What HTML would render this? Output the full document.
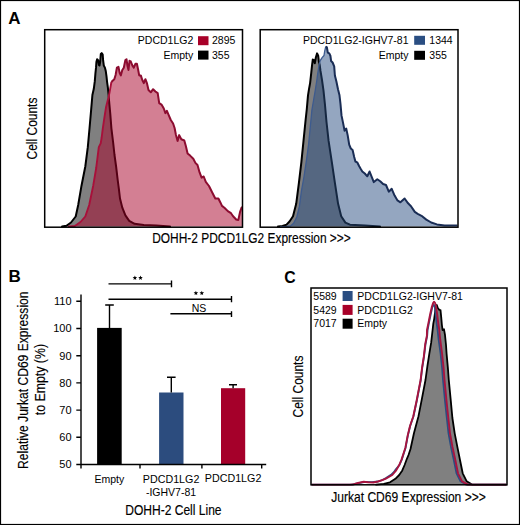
<!DOCTYPE html>
<html><head><meta charset="utf-8"><style>
html,body{margin:0;padding:0;background:#fff;}
svg{display:block;}
text{font-family:"Liberation Sans",sans-serif;}
</style></head><body>
<svg width="520" height="525" viewBox="0 0 520 525">
<rect x="0" y="0" width="520" height="525" fill="#fff"/>
<text x="8.30" y="23.80" font-size="17.00" text-anchor="start" font-weight="bold" fill="#000">A</text>
<text x="8.60" y="282.30" font-size="17.00" text-anchor="start" font-weight="bold" fill="#000">B</text>
<text x="284.30" y="282.50" font-size="17.00" text-anchor="start" font-weight="bold" fill="#000" textLength="11.42" lengthAdjust="spacingAndGlyphs">C</text>
<g>
<polygon points="62.0,226.6 66.5,225.8 71.0,222.5 75.7,216.5 78.2,205.0 81.5,185.7 85.3,166.5 87.8,147.2 89.5,128.5 91.2,109.2 92.4,95.0 93.8,88.8 94.8,81.2 95.4,73.6 96.0,67.9 96.4,62.1 97.1,59.3 98.1,60.2 98.9,65.0 99.5,65.5 100.2,61.7 100.8,54.0 101.7,53.1 102.7,54.5 103.1,60.2 103.8,65.5 105.0,67.9 105.7,70.7 106.5,76.4 107.1,82.1 107.9,87.9 108.6,95.0 109.0,100.0 110.3,114.0 111.4,128.3 113.2,143.0 114.5,155.0 116.1,166.5 117.7,180.0 118.9,189.2 120.0,198.5 122.3,207.7 125.4,215.4 129.2,220.8 134.6,223.8 143.8,224.9 156.2,225.4 170.0,226.6 170.0,226.6 62.0,226.6" fill="#808080" fill-opacity="1" stroke="none"/><polyline points="62.0,226.6 66.5,225.8 71.0,222.5 75.7,216.5 78.2,205.0 81.5,185.7 85.3,166.5 87.8,147.2 89.5,128.5 91.2,109.2 92.4,95.0 93.8,88.8 94.8,81.2 95.4,73.6 96.0,67.9 96.4,62.1 97.1,59.3 98.1,60.2 98.9,65.0 99.5,65.5 100.2,61.7 100.8,54.0 101.7,53.1 102.7,54.5 103.1,60.2 103.8,65.5 105.0,67.9 105.7,70.7 106.5,76.4 107.1,82.1 107.9,87.9 108.6,95.0 109.0,100.0 110.3,114.0 111.4,128.3 113.2,143.0 114.5,155.0 116.1,166.5 117.7,180.0 118.9,189.2 120.0,198.5 122.3,207.7 125.4,215.4 129.2,220.8 134.6,223.8 143.8,224.9 156.2,225.4 170.0,226.6" fill="none" stroke="#000" stroke-width="2.0" stroke-linejoin="round" stroke-linecap="round"/>
<polygon points="68.0,226.6 74.8,226.0 80.5,222.0 85.3,216.5 89.2,205.0 93.2,185.7 96.2,168.0 98.8,147.2 100.7,143.4 101.6,138.0 102.8,128.3 104.5,116.9 106.0,107.3 108.4,97.7 109.5,92.6 111.4,82.0 112.9,80.5 114.3,79.3 115.6,75.0 116.9,67.7 118.5,66.9 119.7,73.1 120.8,75.4 122.3,70.0 123.8,67.7 125.4,60.0 126.5,59.2 127.4,65.4 128.5,70.0 129.5,60.8 130.8,61.5 132.3,65.4 133.8,67.7 135.4,63.8 136.9,63.8 138.2,70.0 139.2,75.4 140.8,75.4 142.3,80.0 143.8,83.1 145.4,79.2 146.9,83.1 148.5,90.0 150.8,92.3 153.1,89.2 155.4,91.5 157.7,93.1 159.2,103.1 161.5,104.6 163.8,108.5 165.4,113.1 166.9,110.8 168.5,114.6 170.8,120.0 173.1,123.5 174.6,128.0 175.9,134.7 177.6,140.9 179.2,135.1 181.3,139.3 184.3,140.5 185.9,146.2 187.6,153.5 190.1,155.6 193.3,158.7 195.4,162.9 197.5,165.0 199.6,172.4 201.6,177.6 203.7,176.5 205.8,181.8 209.0,186.0 212.1,192.3 215.3,198.5 218.4,198.5 220.5,202.7 222.0,205.9 224.7,208.0 227.8,211.1 231.0,213.2 233.1,216.3 236.2,219.5 238.3,220.1 240.0,212.1 241.4,208.0 242.3,207.0 242.3,226.6 68.0,226.6" fill="#a80028" fill-opacity="0.5" stroke="none"/><polyline points="68.0,226.6 74.8,226.0 80.5,222.0 85.3,216.5 89.2,205.0 93.2,185.7 96.2,168.0 98.8,147.2 100.7,143.4 101.6,138.0 102.8,128.3 104.5,116.9 106.0,107.3 108.4,97.7 109.5,92.6 111.4,82.0 112.9,80.5 114.3,79.3 115.6,75.0 116.9,67.7 118.5,66.9 119.7,73.1 120.8,75.4 122.3,70.0 123.8,67.7 125.4,60.0 126.5,59.2 127.4,65.4 128.5,70.0 129.5,60.8 130.8,61.5 132.3,65.4 133.8,67.7 135.4,63.8 136.9,63.8 138.2,70.0 139.2,75.4 140.8,75.4 142.3,80.0 143.8,83.1 145.4,79.2 146.9,83.1 148.5,90.0 150.8,92.3 153.1,89.2 155.4,91.5 157.7,93.1 159.2,103.1 161.5,104.6 163.8,108.5 165.4,113.1 166.9,110.8 168.5,114.6 170.8,120.0 173.1,123.5 174.6,128.0 175.9,134.7 177.6,140.9 179.2,135.1 181.3,139.3 184.3,140.5 185.9,146.2 187.6,153.5 190.1,155.6 193.3,158.7 195.4,162.9 197.5,165.0 199.6,172.4 201.6,177.6 203.7,176.5 205.8,181.8 209.0,186.0 212.1,192.3 215.3,198.5 218.4,198.5 220.5,202.7 222.0,205.9 224.7,208.0 227.8,211.1 231.0,213.2 233.1,216.3 236.2,219.5 238.3,220.1 240.0,212.1 241.4,208.0 242.3,207.0" fill="none" stroke="#8c0c30" stroke-width="0" stroke-linejoin="round" stroke-linecap="round"/>
<polyline points="68.0,226.6 74.8,226.0 80.5,222.0 85.3,216.5 89.2,205.0 93.2,185.7 96.2,168.0 98.8,147.2 100.7,143.4 101.6,138.0 102.8,128.3 104.5,116.9 106.0,107.3 108.4,97.7 109.5,92.6 111.4,82.0" fill="none" stroke="#a8103a" stroke-width="1.9" stroke-linejoin="round"/>
<polyline points="111.4,82.0 112.9,80.5 114.3,79.3 115.6,75.0 116.9,67.7 118.5,66.9 119.7,73.1 120.8,75.4 122.3,70.0 123.8,67.7 125.4,60.0 126.5,59.2 127.4,65.4 128.5,70.0 129.5,60.8 130.8,61.5 132.3,65.4 133.8,67.7 135.4,63.8 136.9,63.8 138.2,70.0 139.2,75.4 140.8,75.4 142.3,80.0 143.8,83.1 145.4,79.2 146.9,83.1 148.5,90.0 150.8,92.3 153.1,89.2 155.4,91.5 157.7,93.1 159.2,103.1 161.5,104.6 163.8,108.5 165.4,113.1 166.9,110.8 168.5,114.6 170.8,120.0 173.1,123.5 174.6,128.0 175.9,134.7 177.6,140.9 179.2,135.1 181.3,139.3 184.3,140.5 185.9,146.2 187.6,153.5 190.1,155.6 193.3,158.7 195.4,162.9 197.5,165.0 199.6,172.4 201.6,177.6 203.7,176.5 205.8,181.8 209.0,186.0 212.1,192.3 215.3,198.5 218.4,198.5 220.5,202.7 222.0,205.9 224.7,208.0 227.8,211.1 231.0,213.2 233.1,216.3 236.2,219.5 238.3,220.1 240.0,212.1 241.4,208.0 242.3,207.0" fill="none" stroke="#8c0c30" stroke-width="2.0" stroke-linejoin="round"/>
</g>
<rect x="44.7" y="29.7" width="197.8" height="197.5" fill="none" stroke="#000" stroke-width="1.5"/>
<text x="193.30" y="44.30" font-size="10.50" text-anchor="end" font-weight="normal" fill="#000">PDCD1LG2</text>
<rect x="198" y="36.2" width="10.5" height="9" fill="#a80028"/>
<text x="212.00" y="44.30" font-size="10.50" text-anchor="start" font-weight="normal" fill="#000">2895</text>
<text x="193.30" y="58.60" font-size="10.50" text-anchor="end" font-weight="normal" fill="#000">Empty</text>
<rect x="198" y="50.6" width="10.5" height="9" fill="#000"/>
<text x="212.00" y="58.60" font-size="10.50" text-anchor="start" font-weight="normal" fill="#000">355</text>
<text x="36.80" y="128.50" font-size="14.00" text-anchor="middle" font-weight="normal" fill="#000" textLength="61.87" lengthAdjust="spacingAndGlyphs" transform="rotate(-90 36.80 128.50)" stroke="#000" stroke-width="0.15">Cell Counts</text>
<polygon points="278.0,226.6 282.5,226.0 286.5,224.6 289.5,221.5 293.0,216.3 296.2,203.8 298.9,182.8 301.4,161.9 303.5,140.9 305.6,120.0 306.8,109.0 308.0,95.3 309.0,89.2 310.1,83.1 311.3,72.4 312.1,64.8 312.8,59.5 313.9,60.2 314.8,63.3 315.9,57.2 317.1,53.4 318.2,55.7 318.9,61.8 319.7,64.8 320.5,70.9 322.0,80.0 323.5,90.7 325.0,105.0 326.5,122.0 328.6,140.9 331.8,161.9 334.9,182.8 338.1,203.8 341.2,216.3 345.4,222.6 350.0,224.7 365.0,225.5 380.0,226.6 380.0,226.6 278.0,226.6" fill="#808080" fill-opacity="1" stroke="none"/><polyline points="278.0,226.6 282.5,226.0 286.5,224.6 289.5,221.5 293.0,216.3 296.2,203.8 298.9,182.8 301.4,161.9 303.5,140.9 305.6,120.0 306.8,109.0 308.0,95.3 309.0,89.2 310.1,83.1 311.3,72.4 312.1,64.8 312.8,59.5 313.9,60.2 314.8,63.3 315.9,57.2 317.1,53.4 318.2,55.7 318.9,61.8 319.7,64.8 320.5,70.9 322.0,80.0 323.5,90.7 325.0,105.0 326.5,122.0 328.6,140.9 331.8,161.9 334.9,182.8 338.1,203.8 341.2,216.3 345.4,222.6 350.0,224.7 365.0,225.5 380.0,226.6" fill="none" stroke="#000" stroke-width="2.0" stroke-linejoin="round" stroke-linecap="round"/>
<polygon points="280.0,226.6 287.0,226.3 290.5,225.9 293.6,223.2 296.8,217.0 299.4,206.4 301.5,190.7 304.0,176.5 306.7,158.6 308.6,144.3 310.0,130.0 311.9,110.0 313.6,100.0 315.3,90.0 316.8,80.5 317.5,75.1 318.3,69.8 319.0,65.2 320.2,60.7 322.1,57.6 324.0,55.5 324.7,51.1 325.8,46.5 326.9,47.3 327.8,52.6 329.3,53.4 330.4,55.7 331.1,61.0 332.6,62.5 334.2,66.3 334.9,75.5 336.4,81.5 338.0,89.2 339.5,95.3 340.5,104.0 341.5,115.4 343.1,123.1 344.6,130.8 346.2,128.5 347.7,135.4 349.2,144.6 350.8,148.5 352.6,150.0 354.2,156.9 355.4,161.5 357.2,162.3 359.2,166.2 360.5,168.5 362.3,171.5 364.8,173.5 367.3,176.3 369.6,171.5 371.5,176.3 373.8,182.1 377.3,179.2 380.2,181.2 383.1,184.0 386.0,185.0 388.8,191.7 391.7,188.8 394.6,195.6 397.5,200.4 400.4,202.3 404.6,198.5 408.1,203.3 411.0,206.2 414.8,211.9 417.7,213.8 421.5,215.8 426.3,219.6 431.2,222.5 436.9,224.4 444.6,225.4 457.5,225.4 457.5,226.6 280.0,226.6" fill="#2a4e82" fill-opacity="0.5" stroke="none"/><polyline points="280.0,226.6 287.0,226.3 290.5,225.9 293.6,223.2 296.8,217.0 299.4,206.4 301.5,190.7 304.0,176.5 306.7,158.6 308.6,144.3 310.0,130.0 311.9,110.0 313.6,100.0 315.3,90.0 316.8,80.5 317.5,75.1 318.3,69.8 319.0,65.2 320.2,60.7 322.1,57.6 324.0,55.5 324.7,51.1 325.8,46.5 326.9,47.3 327.8,52.6 329.3,53.4 330.4,55.7 331.1,61.0 332.6,62.5 334.2,66.3 334.9,75.5 336.4,81.5 338.0,89.2 339.5,95.3 340.5,104.0 341.5,115.4 343.1,123.1 344.6,130.8 346.2,128.5 347.7,135.4 349.2,144.6 350.8,148.5 352.6,150.0 354.2,156.9 355.4,161.5 357.2,162.3 359.2,166.2 360.5,168.5 362.3,171.5 364.8,173.5 367.3,176.3 369.6,171.5 371.5,176.3 373.8,182.1 377.3,179.2 380.2,181.2 383.1,184.0 386.0,185.0 388.8,191.7 391.7,188.8 394.6,195.6 397.5,200.4 400.4,202.3 404.6,198.5 408.1,203.3 411.0,206.2 414.8,211.9 417.7,213.8 421.5,215.8 426.3,219.6 431.2,222.5 436.9,224.4 444.6,225.4 457.5,225.4" fill="none" stroke="#1a2d55" stroke-width="0" stroke-linejoin="round" stroke-linecap="round"/>
<polyline points="280.0,226.6 287.0,226.3 290.5,225.9 293.6,223.2 296.8,217.0 299.4,206.4 301.5,190.7 304.0,176.5 306.7,158.6 308.6,144.3 310.0,130.0 311.9,110.0 313.6,100.0 315.3,90.0 316.8,80.5 317.5,75.1 318.3,69.8 319.0,65.2 320.2,60.7 322.1,57.6 324.0,55.5 324.7,51.1 325.8,46.5" fill="none" stroke="#3d5b8f" stroke-width="1.3" stroke-linejoin="round"/>
<polyline points="325.8,46.5 326.9,47.3 327.8,52.6 329.3,53.4 330.4,55.7 331.1,61.0 332.6,62.5 334.2,66.3 334.9,75.5 336.4,81.5 338.0,89.2 339.5,95.3 340.5,104.0 341.5,115.4 343.1,123.1 344.6,130.8 346.2,128.5 347.7,135.4 349.2,144.6 350.8,148.5 352.6,150.0 354.2,156.9 355.4,161.5 357.2,162.3 359.2,166.2 360.5,168.5 362.3,171.5 364.8,173.5 367.3,176.3 369.6,171.5 371.5,176.3 373.8,182.1 377.3,179.2 380.2,181.2 383.1,184.0 386.0,185.0 388.8,191.7 391.7,188.8 394.6,195.6 397.5,200.4 400.4,202.3 404.6,198.5 408.1,203.3 411.0,206.2 414.8,211.9 417.7,213.8 421.5,215.8 426.3,219.6 431.2,222.5 436.9,224.4 444.6,225.4 457.5,225.4" fill="none" stroke="#1a2d55" stroke-width="2.0" stroke-linejoin="round"/>
<rect x="260.2" y="29.7" width="197.8" height="197.5" fill="none" stroke="#000" stroke-width="1.5"/>
<text x="408.50" y="44.20" font-size="10.50" text-anchor="end" font-weight="normal" fill="#000">PDCD1LG2-IGHV7-81</text>
<rect x="414.2" y="35.8" width="10.8" height="9" fill="#2a4e82"/>
<text x="429.30" y="44.20" font-size="10.50" text-anchor="start" font-weight="normal" fill="#000">1344</text>
<text x="408.50" y="58.60" font-size="10.50" text-anchor="end" font-weight="normal" fill="#000">Empty</text>
<rect x="414.2" y="50.8" width="10.8" height="9" fill="#000"/>
<text x="429.30" y="58.60" font-size="10.50" text-anchor="start" font-weight="normal" fill="#000">355</text>
<text x="251.50" y="243.10" font-size="14.00" text-anchor="middle" font-weight="normal" fill="#000" textLength="198.55" lengthAdjust="spacingAndGlyphs" stroke="#000" stroke-width="0.15">DOHH-2 PDCD1LG2 Expression &gt;&gt;&gt;</text>
<rect x="97.1" y="327.9" width="24.6" height="136.6" fill="#000"/>
<rect x="159.1" y="392.5" width="24.4" height="72" fill="#2c4c7e"/>
<rect x="221" y="388.2" width="24.2" height="76.3" fill="#a5002a"/>
<path d="M109.5 327.9V305M105.2 305H113.8" stroke="#000" stroke-width="1.4" fill="none"/>
<path d="M171.3 392.5V377.3M167 377.3H175.6" stroke="#000" stroke-width="1.4" fill="none"/>
<path d="M233.1 388.2V384.7M229 384.7H237" stroke="#000" stroke-width="1.4" fill="none"/>
<path d="M81 294.4V468.5M76.3 464.5H266.2M76.3 301.3H81M76.3 328.5H81M76.3 355.7H81M76.3 382.9H81M76.3 410.1H81M76.3 437.3H81M76.3 464.5H81M140.0 464.5V468.5M201.9 464.5V468.5M261.7 464.5V468.5" stroke="#000" stroke-width="1.4" fill="none"/>
<text x="71.60" y="305.10" font-size="11.00" text-anchor="end" font-weight="normal" fill="#000">110</text>
<text x="71.60" y="332.30" font-size="11.00" text-anchor="end" font-weight="normal" fill="#000">100</text>
<text x="71.60" y="359.50" font-size="11.00" text-anchor="end" font-weight="normal" fill="#000">90</text>
<text x="71.60" y="386.70" font-size="11.00" text-anchor="end" font-weight="normal" fill="#000">80</text>
<text x="71.60" y="413.90" font-size="11.00" text-anchor="end" font-weight="normal" fill="#000">70</text>
<text x="71.60" y="441.10" font-size="11.00" text-anchor="end" font-weight="normal" fill="#000">60</text>
<text x="71.60" y="468.30" font-size="11.00" text-anchor="end" font-weight="normal" fill="#000">50</text>
<path d="M108.5 283.9H171.5M171.5 280.4V287.3M108.5 299.2H231.5M231.5 295.9V302.3M170.4 313.7H231.5M231.5 311.2V316.9" stroke="#000" stroke-width="1.4" fill="none"/>
<polygon points="134.9,275.6 135.5,277.1 137.2,277.2 135.9,278.3 136.3,280.0 134.9,279.1 133.5,280.0 133.9,278.3 132.6,277.2 134.3,277.1" fill="#000"/>
<polygon points="140.5,275.6 141.1,277.1 142.8,277.2 141.5,278.3 141.9,280.0 140.5,279.1 139.1,280.0 139.5,278.3 138.2,277.2 139.9,277.1" fill="#000"/>
<polygon points="195.9,290.7 196.5,292.2 198.2,292.3 196.9,293.4 197.3,295.1 195.9,294.2 194.5,295.1 194.9,293.4 193.6,292.3 195.3,292.2" fill="#000"/>
<polygon points="201.8,290.7 202.4,292.2 204.1,292.3 202.8,293.4 203.2,295.1 201.8,294.2 200.4,295.1 200.8,293.4 199.5,292.3 201.2,292.2" fill="#000"/>
<text x="199.00" y="312.00" font-size="10.50" text-anchor="middle" font-weight="normal" fill="#000">NS</text>
<text x="109.30" y="482.80" font-size="10.50" text-anchor="middle" font-weight="normal" fill="#000">Empty</text>
<text x="171.10" y="482.70" font-size="10.50" text-anchor="middle" font-weight="normal" fill="#000" textLength="56.55" lengthAdjust="spacingAndGlyphs">PDCD1LG2</text>
<text x="171.00" y="495.70" font-size="10.50" text-anchor="middle" font-weight="normal" fill="#000">-IGHV7-81</text>
<text x="233.10" y="482.30" font-size="10.50" text-anchor="middle" font-weight="normal" fill="#000" textLength="56.55" lengthAdjust="spacingAndGlyphs">PDCD1LG2</text>
<text x="173.40" y="514.50" font-size="14.00" text-anchor="middle" font-weight="normal" fill="#000" textLength="96.35" lengthAdjust="spacingAndGlyphs" stroke="#000" stroke-width="0.15">DOHH-2 Cell Line</text>
<text x="28.50" y="380.20" font-size="14.00" text-anchor="middle" font-weight="normal" fill="#000" textLength="177.48" lengthAdjust="spacingAndGlyphs" transform="rotate(-90 28.50 380.20)" stroke="#000" stroke-width="0.15">Relative Jurkat CD69 Expression</text>
<text x="44.90" y="379.60" font-size="14.00" text-anchor="middle" font-weight="normal" fill="#000" textLength="71.19" lengthAdjust="spacingAndGlyphs" transform="rotate(-90 44.90 379.60)" stroke="#000" stroke-width="0.15">to Empty (%)</text>
<polygon points="376.0,484.6 383.8,483.8 390.0,482.3 395.4,478.8 399.2,475.0 402.3,470.4 404.6,465.0 406.9,458.8 408.5,455.0 410.5,449.0 414.0,433.0 418.5,416.2 421.5,400.8 425.5,380.0 427.4,366.2 429.3,353.8 431.2,342.4 432.6,330.0 433.3,323.6 434.2,318.8 435.1,312.1 435.8,306.8 436.8,305.0 437.8,308.0 439.3,309.8 440.5,310.2 441.3,318.0 441.9,325.0 442.6,330.2 444.0,329.3 445.0,335.0 446.0,345.0 446.6,353.8 447.9,368.1 448.8,380.0 450.8,400.8 452.4,418.0 454.7,433.3 457.3,446.7 460.0,460.0 462.7,473.3 466.7,481.3 472.0,484.6 506.0,484.6 506.0,484.6 376.0,484.6" fill="#808080" fill-opacity="1" stroke="none"/><polyline points="376.0,484.6 383.8,483.8 390.0,482.3 395.4,478.8 399.2,475.0 402.3,470.4 404.6,465.0 406.9,458.8 408.5,455.0 410.5,449.0 414.0,433.0 418.5,416.2 421.5,400.8 425.5,380.0 427.4,366.2 429.3,353.8 431.2,342.4 432.6,330.0 433.3,323.6 434.2,318.8 435.1,312.1 435.8,306.8 436.8,305.0 437.8,308.0 439.3,309.8 440.5,310.2 441.3,318.0 441.9,325.0 442.6,330.2 444.0,329.3 445.0,335.0 446.0,345.0 446.6,353.8 447.9,368.1 448.8,380.0 450.8,400.8 452.4,418.0 454.7,433.3 457.3,446.7 460.0,460.0 462.7,473.3 466.7,481.3 472.0,484.6 506.0,484.6" fill="none" stroke="#000" stroke-width="1.8" stroke-linejoin="round" stroke-linecap="round"/>
<polyline points="312.0,484.6 352.0,484.6 355.0,484.0 360.0,482.8 364.0,482.0 372.0,482.2 378.0,481.5 382.0,480.2 386.0,478.0 391.0,474.8 394.0,472.0 396.0,469.0 399.5,465.0 401.8,459.6 403.3,455.0 405.6,447.7 407.9,435.4 410.2,426.0 413.5,416.2 416.8,400.8 420.8,380.0 422.2,368.1 424.0,356.7 425.5,344.3 427.2,335.7 427.6,330.0 428.8,323.6 430.8,314.0 432.1,308.0 433.2,305.0 434.0,304.8 434.8,307.0 435.6,314.0 436.7,323.6 437.6,330.0 438.6,339.5 440.6,353.8 442.1,368.1 443.0,380.0 445.0,400.8 446.8,418.0 448.5,433.3 451.0,447.0 453.8,460.0 456.5,473.3 460.5,481.3 466.0,484.6 506.0,484.6" fill="none" stroke="#2a4e82" stroke-width="1.8" stroke-linejoin="round" stroke-linecap="round"/>
<polyline points="312.0,484.6 350.0,484.6 354.0,484.2 358.0,483.0 363.7,481.8 368.0,482.3 373.3,482.5 378.0,481.5 381.5,480.4 385.4,478.8 392.3,475.0 396.2,470.4 399.2,465.0 401.5,459.6 403.0,455.0 405.4,447.7 407.7,435.4 410.0,426.0 413.3,416.2 416.6,400.8 420.6,380.0 422.0,368.1 423.8,356.7 425.2,344.3 426.9,335.7 427.0,330.0 428.3,323.6 430.2,314.0 431.7,307.4 433.1,303.1 434.0,301.7 435.2,303.1 436.0,306.4 437.1,314.0 438.3,323.6 439.3,330.0 440.2,339.5 442.1,353.8 443.6,368.1 444.5,380.0 446.5,400.8 448.3,418.0 450.0,433.3 452.5,447.0 455.3,460.0 458.0,473.3 462.0,481.3 468.0,484.6 506.0,484.6" fill="none" stroke="#a8143f" stroke-width="1.9" stroke-linejoin="round" stroke-linecap="round"/>
<rect x="311" y="288" width="196" height="196.8" fill="none" stroke="#000" stroke-width="1.5"/>
<text x="313.30" y="299.70" font-size="10.50" text-anchor="start" font-weight="normal" fill="#000">5589</text>
<rect x="342.6" y="291.0" width="10" height="10" fill="#2a4e82"/>
<text x="357.30" y="299.70" font-size="10.50" text-anchor="start" font-weight="normal" fill="#000">PDCD1LG2-IGHV7-81</text>
<text x="313.30" y="313.55" font-size="10.50" text-anchor="start" font-weight="normal" fill="#000">5429</text>
<rect x="342.6" y="304.9" width="10" height="10" fill="#a80028"/>
<text x="357.30" y="313.55" font-size="10.50" text-anchor="start" font-weight="normal" fill="#000">PDCD1LG2</text>
<text x="313.30" y="327.40" font-size="10.50" text-anchor="start" font-weight="normal" fill="#000">7017</text>
<rect x="342.6" y="318.7" width="10" height="10" fill="#000"/>
<text x="357.30" y="327.40" font-size="10.50" text-anchor="start" font-weight="normal" fill="#000">Empty</text>
<text x="303.30" y="386.50" font-size="14.00" text-anchor="middle" font-weight="normal" fill="#000" textLength="61.87" lengthAdjust="spacingAndGlyphs" transform="rotate(-90 303.30 386.50)" stroke="#000" stroke-width="0.15">Cell Counts</text>
<text x="408.50" y="502.00" font-size="14.00" text-anchor="middle" font-weight="normal" fill="#000" textLength="154.62" lengthAdjust="spacingAndGlyphs" stroke="#000" stroke-width="0.15">Jurkat CD69 Expression &gt;&gt;&gt;</text>
<rect x="0.5" y="0.5" width="519" height="524" fill="none" stroke="#000" stroke-width="1.2"/>
</svg>
</body></html>
